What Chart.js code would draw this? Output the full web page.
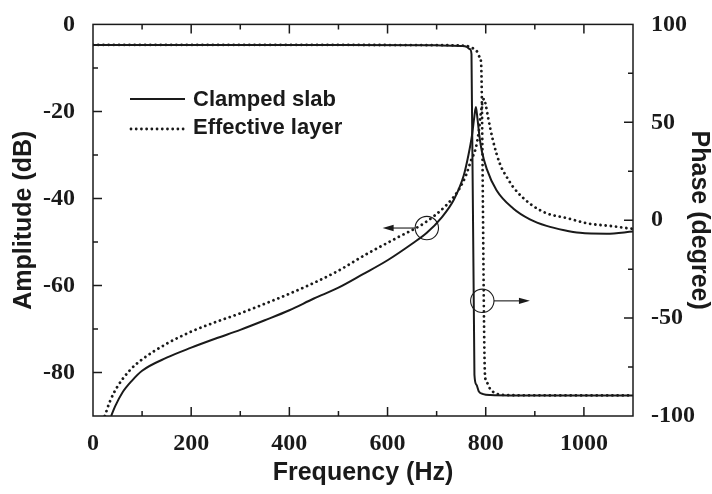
<!DOCTYPE html>
<html>
<head>
<meta charset="utf-8">
<title>Clamped slab / Effective layer</title>
<script src="https://cdn.jsdelivr.net/npm/chart.js@4.4.1/dist/chart.umd.min.js"></script>
<style>
  html, body { margin: 0; padding: 0; background: #fff; }
  #grafica { display: block; }
</style>
</head>
<body>
<canvas id="grafica" width="712" height="494"></canvas>
<script>
// Amplitud - placa empotrada (linea continua)
const ampClampedFreq = [37, 45, 60, 80, 100, 150, 200, 250, 300, 350, 400, 450, 500, 550, 600, 650, 680, 710, 735, 755, 765, 772, 777, 780, 783, 787, 792, 802, 822, 856, 890, 924, 960, 992, 1046, 1100];
const ampClampedDb = [-90, -87.8, -84.6, -81.8, -79.6, -76.6, -74.3, -72.2, -70.2, -68.0, -65.7, -63.0, -60.5, -57.4, -54.2, -50.4, -47.9, -44.4, -40.3, -34.8, -29.9, -25.5, -21.0, -19.0, -21.5, -25.5, -29.1, -33.2, -38.1, -42.3, -44.8, -46.3, -47.3, -47.9, -48.1, -47.6];

// Amplitud - capa efectiva (punteada)
const ampEffectiveFreq = [24, 35, 50, 75, 100, 150, 200, 250, 300, 350, 400, 450, 500, 557, 600, 625, 673, 720, 745, 760, 770, 780, 786, 790, 794, 797, 800, 805, 815, 829, 843, 856, 890, 924, 965, 1006, 1060, 1100];
const ampEffectiveDb = [-90, -86.5, -83.2, -79.5, -77.0, -73.4, -70.6, -68.4, -66.4, -64.2, -61.9, -59.4, -56.6, -52.8, -50.2, -48.7, -45.8, -41.5, -38.0, -34.6, -31.3, -28.3, -24.5, -20.5, -17.6, -17.1, -18.5, -21.5, -26.8, -32.1, -35.1, -37.4, -41.2, -43.4, -44.5, -45.7, -46.4, -47.0];

// Fase - placa empotrada
const phaseClampedFreq = [0, 500, 700, 750, 761, 768, 771, 777, 781, 786, 795, 810, 850, 1100];
const phaseClampedDeg = [89.5, 89.5, 89.3, 89.0, 88.6, 87.3, 84.8, -79, -84, -87.5, -88.8, -89.3, -89.5, -89.5];

// Fase - capa efectiva
const phaseEffectiveFreq = [0, 500, 700, 760, 775, 783, 787, 790.5, 798.5, 802, 808.6, 819, 829, 850, 1100];
const phaseEffectiveDeg = [89.5, 89.5, 89.4, 89.0, 87.6, 85.9, 83.6, 80.6, -79, -82.7, -86, -88.3, -89, -89.4, -89.5];

// Etiquetas de los ejes
const freqTicks = [0, 200, 400, 600, 800, 1000];
const ampTicks = [0, -20, -40, -60, -80];
const phaseTicks = [100, 50, 0, -50, -100];
const legendLabels = ['Clamped slab', 'Effective layer'];

// Circulos con flecha: [freq, valor, eje, freq destino de la flecha]
const ampMarker = [680, -46.8, 'yL', 590];
const phaseMarker = [793, -41.2, 'yR', 890];

const INK = '#1a1a1a';
const tickFont = { family: '"Liberation Serif", "DejaVu Serif", serif', size: 24, weight: 'bold' };
const titleFont = { family: '"Liberation Sans", Arial, sans-serif', size: 25, weight: 'bold', lineHeight: 1 };
const dotted = [0.01, 5.2];

function toPoints(xs, ys) {
    return xs.map((x, i) => ({ x: x, y: ys[i] }));
}

function fixTicks(values) {
    return scale => { scale.ticks = values.map(v => ({ value: v })); };
}

const plainLabel = v => String(v);

function drawArrowMarker(chart, m) {
    const ctx = chart.ctx;
    const cx = chart.scales.x.getPixelForValue(m[0]);
    const cy = chart.scales[m[2]].getPixelForValue(m[1]);
    const tipX = chart.scales.x.getPixelForValue(m[3]);
    const r = 11.7;
    const dir = tipX < cx ? -1 : 1;
    ctx.save();
    ctx.strokeStyle = INK;
    ctx.fillStyle = INK;
    ctx.lineWidth = 1.1;
    ctx.beginPath();
    ctx.arc(cx, cy, r, 0, Math.PI * 2);
    ctx.stroke();
    ctx.beginPath();
    ctx.moveTo(cx + dir * r, cy);
    ctx.lineTo(tipX - dir * 8, cy);
    ctx.stroke();
    ctx.beginPath();
    ctx.moveTo(tipX, cy);
    ctx.lineTo(tipX - dir * 11, cy - 3.2);
    ctx.lineTo(tipX - dir * 11, cy + 3.2);
    ctx.closePath();
    ctx.fill();
    ctx.restore();
}

const framePlugin = {
    id: 'marcoYMarcas',
    afterDraw(chart) {
        const ctx = chart.ctx;
        const a = chart.chartArea;
        const x = chart.scales.x, yL = chart.scales.yL, yR = chart.scales.yR;
        ctx.save();
        ctx.strokeStyle = INK;
        ctx.lineWidth = 1.5;
        ctx.strokeRect(a.left, a.top, a.right - a.left, a.bottom - a.top);

        ctx.beginPath();
        for (let f = 100; f < 1100; f += 100) {
            const px = x.getPixelForValue(f);
            const len = f % 200 === 0 ? 9 : 5;
            ctx.moveTo(px, a.bottom); ctx.lineTo(px, a.bottom - len);
            ctx.moveTo(px, a.top); ctx.lineTo(px, a.top + len);
        }
        for (let v = -80; v < 0; v += 10) {
            const py = yL.getPixelForValue(v);
            const len = v % 20 === 0 ? 9 : 5;
            ctx.moveTo(a.left, py); ctx.lineTo(a.left + len, py);
        }
        for (let v = -75; v < 100; v += 25) {
            const py = yR.getPixelForValue(v);
            const len = v % 50 === 0 ? 9 : 5;
            ctx.moveTo(a.right, py); ctx.lineTo(a.right - len, py);
        }
        ctx.stroke();

        // leyenda
        ctx.lineWidth = 2;
        ctx.beginPath();
        ctx.moveTo(130, 99); ctx.lineTo(185, 99);
        ctx.stroke();
        ctx.lineWidth = 2.8;
        ctx.lineCap = 'round';
        ctx.setLineDash(dotted);
        ctx.beginPath();
        ctx.moveTo(131, 129); ctx.lineTo(185, 129);
        ctx.stroke();
        ctx.setLineDash([]);
        ctx.fillStyle = INK;
        ctx.font = 'bold 22px "Liberation Sans", Arial, sans-serif';
        ctx.textBaseline = 'middle';
        ctx.fillText(legendLabels[0], 193, 100);
        ctx.fillText(legendLabels[1], 193, 128);
        ctx.restore();

        drawArrowMarker(chart, ampMarker);
        drawArrowMarker(chart, phaseMarker);
    }
};

const solidStyle = { borderColor: INK, borderWidth: 2, pointRadius: 0, cubicInterpolationMode: 'monotone', fill: false };
const dottedStyle = { borderColor: INK, borderWidth: 2.8, borderDash: dotted, borderCapStyle: 'round', pointRadius: 0, cubicInterpolationMode: 'monotone', fill: false };

new Chart(document.getElementById('grafica').getContext('2d'), {
    type: 'line',
    data: {
        datasets: [
            Object.assign({ label: 'Clamped slab', data: toPoints(ampClampedFreq, ampClampedDb), yAxisID: 'yL' }, solidStyle),
            Object.assign({ label: 'Effective layer', data: toPoints(ampEffectiveFreq, ampEffectiveDb), yAxisID: 'yL' }, dottedStyle),
            Object.assign({ label: 'Clamped slab phase', data: toPoints(phaseClampedFreq, phaseClampedDeg), yAxisID: 'yR' }, solidStyle),
            Object.assign({ label: 'Effective layer phase', data: toPoints(phaseEffectiveFreq, phaseEffectiveDeg), yAxisID: 'yR' }, dottedStyle)
        ]
    },
    options: {
        responsive: false,
        animation: false,
        devicePixelRatio: 1,
        layout: { padding: { top: 18, left: 0, right: 0, bottom: 0 } },
        plugins: { legend: { display: false }, tooltip: { enabled: false } },
        scales: {
            x: {
                type: 'linear', position: 'bottom', min: 0, max: 1100,
                grid: { display: false }, border: { display: false },
                afterBuildTicks: fixTicks(freqTicks),
                afterFit: s => { s.height = 78; },
                ticks: { font: tickFont, color: INK, padding: 5, maxRotation: 0, autoSkip: false, callback: plainLabel },
                title: { display: true, text: 'Frequency (Hz)', font: titleFont, color: INK, padding: { top: 0, bottom: 8.5 } }
            },
            yL: {
                type: 'linear', position: 'left', min: -90, max: 0,
                grid: { display: false }, border: { display: false },
                afterBuildTicks: fixTicks(ampTicks),
                afterFit: s => { s.width = 93; },
                ticks: { font: tickFont, color: INK, padding: 10, autoSkip: false, callback: plainLabel },
                title: { display: true, text: 'Amplitude (dB)', font: titleFont, color: INK, padding: { top: 11.5, bottom: 0 } }
            },
            yR: {
                type: 'linear', position: 'right', min: -100, max: 100,
                grid: { display: false }, border: { display: false },
                afterBuildTicks: fixTicks(phaseTicks),
                afterFit: s => { s.width = 79; },
                ticks: { font: tickFont, color: INK, padding: 10, autoSkip: false, callback: plainLabel },
                title: { display: true, text: 'Phase (degree)', font: titleFont, color: INK, padding: { top: 1, bottom: 0 } }
            }
        }
    },
    plugins: [framePlugin]
});
</script>
</body>
</html>
